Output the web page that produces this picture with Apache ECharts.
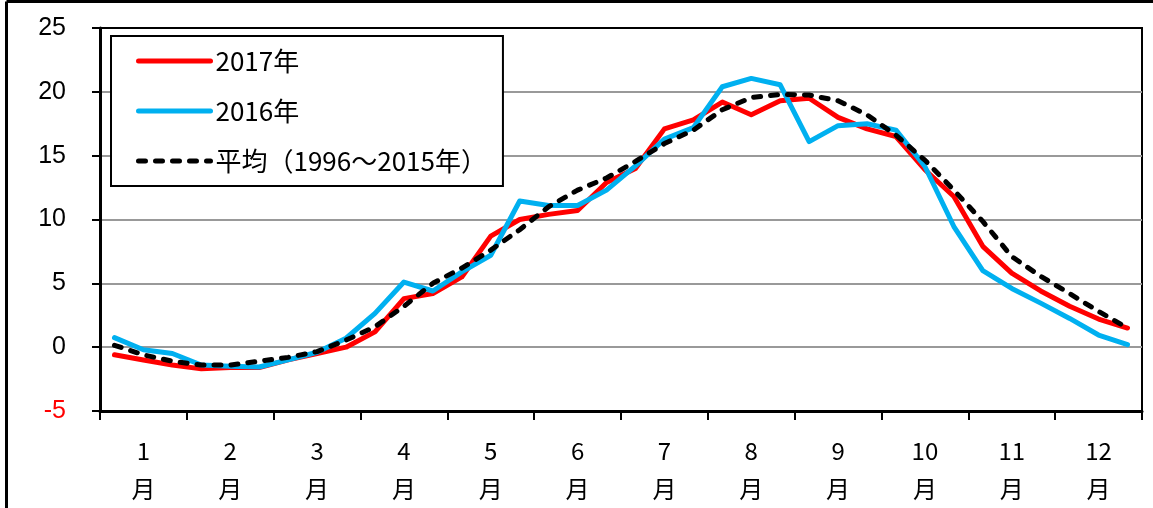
<!DOCTYPE html>
<html>
<head>
<meta charset="utf-8">
<script src="https://cdn.jsdelivr.net/npm/echarts@6/dist/echarts.min.js"></script>
<style>
  html, body { margin: 0; padding: 0; background: #fff; }
  #main { width: 1153px; height: 508px; }
</style>
</head>
<body>
<div id="main"></div>
<script>
// 月ラベル
var months = ['1', '2', '3', '4', '5', '6', '7', '8', '9', '10', '11', '12'];

// 旬（上・中・下）ごとの区分
var junNames = ['上旬', '中旬', '下旬'];
var periods = [];
for (var m = 0; m < months.length; m++) {
    for (var j = 0; j < 3; j++) {
        periods.push(months[m] + '月' + junNames[j]);
    }
}

var yTicks = [-5, 0, 5, 10, 15, 20, 25];

// 2017年
var data2017 = [
    -0.6, -1.0, -1.4,  -1.7, -1.6, -1.6,  -1.0, -0.5, 0.0,
    1.2, 3.8, 4.2,  5.5, 8.7, 10.0,  10.4, 10.7, 12.9,
    14.0, 17.1, 17.8,  19.2, 18.2, 19.3,  19.5, 18.0, 17.1,
    16.5, 13.9, 11.8,  7.9, 5.8, 4.4,  3.2, 2.2, 1.5
];

// 2016年
var data2016 = [
    0.75, -0.2, -0.5,  -1.4, -1.5, -1.55,  -1.0, -0.4, 0.7,
    2.65, 5.1, 4.4,  5.9, 7.2, 11.45,  11.1, 11.1, 12.3,
    14.2, 16.3, 17.2,  20.4, 21.05, 20.55,  16.1, 17.35, 17.5,
    17.0, 14.15, 9.45,  6.0, 4.6, 3.45,  2.25, 0.95, 0.2
];

// 平均（1996～2015年）
var dataAvg = [
    0.15, -0.6, -1.1,  -1.4, -1.4, -1.1,  -0.8, -0.35, 0.55,
    1.6, 3.2, 5.0,  6.2, 7.6, 9.2,  11.0, 12.3, 13.25,
    14.55, 15.95, 17.0,  18.6, 19.55, 19.8,  19.75, 19.3, 18.2,
    16.6, 14.65, 12.3,  9.85, 7.1, 5.55,  4.2, 2.8, 1.5
];

var jpFont = '"Noto Sans CJK JP", "Noto Sans", sans-serif';

var myChart = echarts.init(document.getElementById('main'));

var option = {
    animation: false,
    backgroundColor: '#fff',
    graphic: [
        { type: 'line', shape: { x1: 6.5, y1: 1.5, x2: 1153, y2: 1.5 }, style: { stroke: '#000', lineWidth: 3 } },
        { type: 'line', shape: { x1: 6.5, y1: 1.5, x2: 6.5, y2: 508 }, style: { stroke: '#000', lineWidth: 3 } }
    ],
    grid: {
        left: 100,
        top: 28,
        right: 11,
        bottom: 97,
        show: true,
        borderColor: '#000',
        borderWidth: 2,
        containLabel: false
    },
    legend: {
        orient: 'vertical',
        left: 111,
        top: 36,
        padding: [12, 16, 12, 25],
        itemWidth: 72,
        itemHeight: 14,
        itemGap: 24,
        borderColor: '#000',
        borderWidth: 2,
        backgroundColor: '#fff',
        itemStyle: { opacity: 0 },
        lineStyle: { width: 5 },
        textStyle: { fontFamily: jpFont, fontSize: 26, color: '#000' },
        data: ['2017年', '2016年', '平均（1996～2015年）']
    },
    xAxis: [
        {
            type: 'category',
            data: periods,
            position: 'bottom',
            boundaryGap: true,
            show: false
        },
        {
            type: 'category',
            data: months,
            position: 'bottom',
            boundaryGap: true,
            axisLine: { show: true, lineStyle: { color: '#000', width: 3 } },
            axisTick: { show: true, length: 9, lineStyle: { color: '#000', width: 2 } },
            splitLine: { show: false },
            axisLabel: {
                margin: 21,
                fontFamily: jpFont,
                fontSize: 24,
                lineHeight: 38,
                color: '#000',
                formatter: function (v) { return v + '\n月'; }
            }
        }
    ],
    yAxis: {
        type: 'value',
        min: yTicks[0],
        max: yTicks[yTicks.length - 1],
        interval: 5,
        axisLine: { show: true, lineStyle: { color: '#000', width: 3 } },
        axisTick: { show: true, length: 8, lineStyle: { color: '#000', width: 2 } },
        splitLine: {
            show: true,
            lineStyle: { color: ['#000', '#999', '#999', '#999', '#999', '#999', '#000'], width: 2 }
        },
        axisLabel: {
            margin: 34,
            fontFamily: 'Liberation Sans, Arial, sans-serif',
            fontSize: 25,
            color: '#000',
            formatter: function (v) {
                return v < 0 ? '{neg|' + v + '}' : '' + v;
            },
            rich: {
                neg: { color: '#ff0000', fontFamily: 'Liberation Sans, Arial, sans-serif', fontSize: 25 }
            }
        }
    },
    series: [
        {
            name: '2017年',
            type: 'line',
            xAxisIndex: 0,
            data: data2017,
            symbol: 'none',
            color: '#ff0000',
            lineStyle: { color: '#ff0000', width: 5, cap: 'round', join: 'round' },
            z: 2
        },
        {
            name: '2016年',
            type: 'line',
            xAxisIndex: 0,
            data: data2016,
            symbol: 'none',
            color: '#00b0f0',
            lineStyle: { color: '#00b0f0', width: 5, cap: 'round', join: 'round' },
            z: 3
        },
        {
            name: '平均（1996～2015年）',
            type: 'line',
            xAxisIndex: 0,
            data: dataAvg,
            symbol: 'none',
            color: '#000',
            lineStyle: { color: '#000', width: 5, type: [7, 10], cap: 'round', join: 'round' },
            z: 4
        }
    ]
};

myChart.setOption(option);
</script>
</body>
</html>
